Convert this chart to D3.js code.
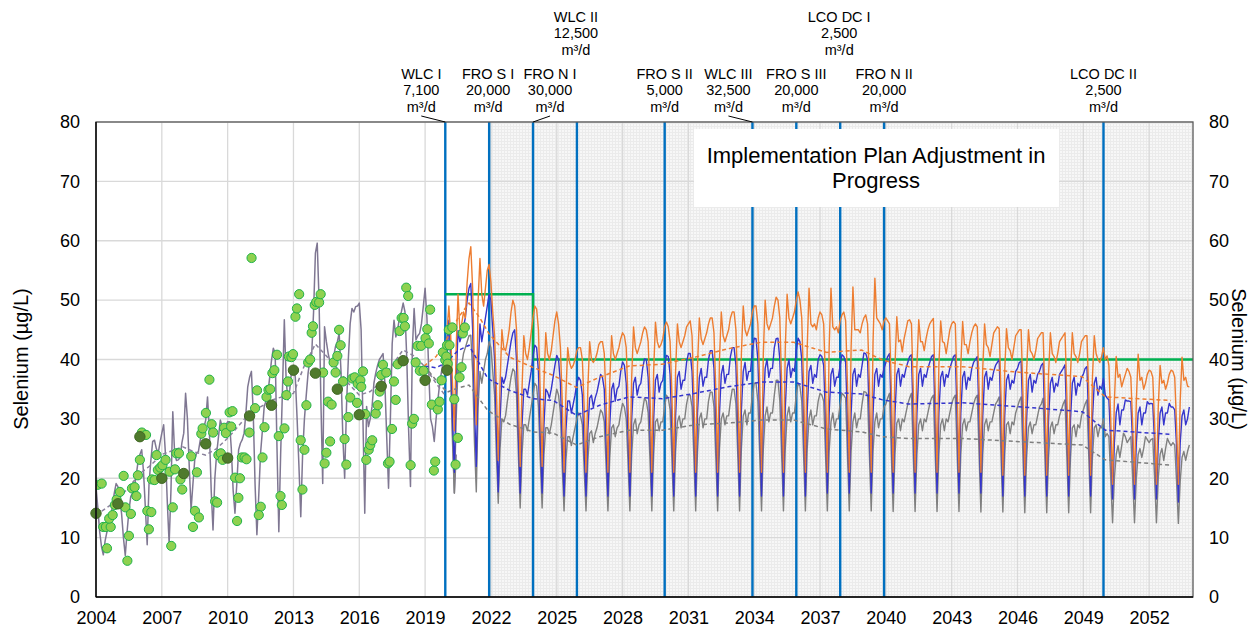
<!DOCTYPE html>
<html>
<head>
<meta charset="utf-8">
<script src="https://cdn.jsdelivr.net/npm/d3@7"></script>
<style>
  body { margin: 0; background: #fff; }
  svg { display: block; font-family: Arial, "Liberation Sans", sans-serif; }
</style>
</head>
<body>
<svg id="chart" width="1257" height="631"></svg>
<script>
// ---- data ----
var yTicks = [0, 10, 20, 30, 40, 50, 60, 70, 80];
var xTickYears = [2004, 2007, 2010, 2013, 2016, 2019, 2022, 2025, 2028, 2031, 2034, 2037, 2040, 2043, 2046, 2049, 2052];

// monthly modelled selenium, Jan 2004 onwards (one row per year)
var historicalStart = 2004;
var historical = [
    [18.6, 15, 11, 8.5, 7.1, 9.5, 11, 12, 13, 15.5, 17.5, 19.1],
    [18.6, 16.6, 14, 10, 7, 11, 14.5, 16.9, 17.5, 18.6, 20.5, 22.8],
    [24, 24.8, 21, 15, 8.8, 19.1, 23, 26.2, 26.4, 25, 24.2, 26],
    [27.6, 29, 24, 16, 9, 18, 31.2, 24.2, 23, 23.1, 23.5, 26],
    [27.6, 34.3, 30, 22, 14.7, 19, 23.1, 24.2, 24.5, 26.4, 27.5, 28.5],
    [29.8, 33.7, 28, 18, 11.3, 20, 24.2, 27, 29.8, 28.7, 28.5, 29],
    [29.5, 29.5, 25, 18, 14.1, 19, 24.8, 25.9, 26.5, 27.6, 31, 35.4],
    [37, 38, 31, 19, 10.5, 17, 24.2, 28, 32.1, 33, 34.3, 37],
    [39.9, 41.9, 41, 25, 11, 24.2, 35, 46.7, 36.5, 33.2, 35, 38.2],
    [39, 37, 30, 22, 13.5, 24, 30, 34, 37.7, 40, 41, 48],
    [57.9, 59.6, 50, 33, 19.1, 45.5, 43, 41, 39.5, 38.8, 40.5, 42.2],
    [43, 44.4, 38, 27, 20, 32.1, 40, 46, 48.6, 48, 48.9, 49],
    [49.5, 45, 30, 14.1, 32.1, 28.7, 30, 32.1, 36, 37.7, 39, 40],
    [40.5, 41, 36, 27, 18.3, 30, 42.7, 46.6, 43.8, 45, 47.2, 48],
    [49.5, 48, 40, 28, 18.6, 41.6, 48.6, 43.3, 44, 44.4, 46, 48.9],
    [52, 47, 38, 30, 28.7, 26.2, 30, 33.2, 36, 38, 40, 42],
    [44, 45, 40, 28, 17.5, 24]
];

// monthly projections, Jan 2020 onwards
var projectionStart = 2020;
var orangeMonthly = [
    [45, 49, 44, 36, 28, 42, 51, 45, 46, 48, 47, 53],
    [57, 59, 52, 38, 29, 50, 57, 51, 49, 52, 55, 56],
    [53, 48, 44, 35, 23, 36, 45, 42, 41.5, 43, 45, 48],
    [50, 49, 45, 34, 22, 35, 44, 41, 40, 42, 44.5, 47],
    [49, 48.5, 45, 34, 22, 36, 44.5, 41, 40, 41.5, 44, 46.5],
    [48, 46, 42, 33, 21, 34, 42, 39.5, 38.5, 39, 40, 41.5],
    [42, 42, 40, 32, 21, 35, 43, 40, 39.5, 40, 41, 42.5],
    [43, 43, 41, 33, 21, 36, 44, 41, 40, 41, 42, 43.5],
    [44.5, 44, 42, 33, 21, 37, 45.5, 42, 41, 42, 43, 44.5],
    [45.5, 45, 43, 34, 21, 38, 46.3, 43, 42, 42.5, 43.5, 45.5],
    [46.3, 45.5, 43, 34, 21, 38, 46, 43, 42, 43, 44, 45.5],
    [46, 46.5, 44, 34, 21, 39, 47, 43.5, 42.5, 43.5, 44.5, 46],
    [47, 47, 44.5, 35, 21, 40, 48, 44, 43, 44, 45, 47],
    [48, 48, 45, 35, 21, 41, 49, 45, 44, 45, 46, 48],
    [49, 49, 46, 36, 21, 41, 50, 46, 45, 46, 47, 49],
    [50.5, 50, 47, 36, 21, 42, 51, 47, 46, 47, 48, 50],
    [51.4, 50, 47, 36, 21, 42, 52, 46, 45.5, 46, 45, 47],
    [48, 47.5, 46, 36, 21, 42, 52, 45.5, 45, 45.5, 44.5, 46.5],
    [47.5, 48, 46.5, 36, 21, 42, 52.2, 45, 45, 45, 44.5, 46],
    [47, 47.5, 46, 36, 21, 43, 53.7, 47, 46.5, 46, 45, 46.5],
    [47, 46.5, 46, 35, 21, 39, 47.2, 43, 43.3, 41.3, 43.5, 45],
    [46.5, 46.7, 46, 35, 21, 39, 46.7, 43, 43, 41.5, 43.5, 45],
    [46, 46.5, 46.9, 35, 21, 39, 46.5, 43, 42.8, 41, 43, 45],
    [46, 46.4, 46, 35, 21, 39, 46.4, 42.5, 42.5, 41, 43, 44.5],
    [45.5, 46, 45.5, 35, 21, 38.5, 46, 42.5, 42, 40.5, 42.5, 44.5],
    [45, 45.5, 45.2, 34, 20.5, 38, 45.2, 42, 41.5, 40, 42, 44],
    [44.5, 45, 45, 34, 20.5, 38, 45, 41.5, 41, 40, 41.5, 43.5],
    [44, 44.5, 44.5, 34, 20.5, 37.5, 44.5, 41, 40.5, 39.5, 41, 43],
    [43.5, 44, 44.5, 34, 20.5, 37.5, 44.5, 41, 40.5, 39.5, 41, 43],
    [43.5, 44, 44, 34, 20.5, 37, 44, 41, 40, 39.5, 40.5, 42],
    [40, 40.6, 39, 30, 19, 33, 40.5, 37, 37.5, 35.4, 36.5, 37.5],
    [38.5, 38, 37, 29, 19, 33, 40.9, 36.5, 37, 35, 36, 37.5],
    [38.2, 38, 37, 29, 19, 32, 39, 36, 36.5, 35, 36, 37.5],
    [38.2, 38, 37, 29, 19, 33, 40.4, 36.5, 37, 35.5, 35.4]
];
var blueMonthly = [
    [40, 46.6, 42, 30, 21, 36, 44.9, 43, 44, 45.5, 47, 50],
    [52, 52.8, 45, 32, 22, 38, 46, 43, 45, 47, 49, 51],
    [50, 45, 40, 28, 17.7, 30, 37, 36, 37, 39, 41, 43],
    [44.5, 45, 40, 28, 17.5, 29, 35, 35, 34, 36, 38, 40.5],
    [42.4, 42, 38, 27, 17.5, 29, 35, 34.5, 33.5, 35, 37, 39],
    [40.7, 40, 36, 26, 17, 28, 33, 33, 31, 32.5, 34, 36],
    [37, 36.5, 34, 25, 17, 28, 33.5, 34, 32, 33.5, 34.5, 36],
    [37.5, 37, 35, 26, 17, 29, 35, 36, 33, 35, 35.5, 38],
    [39.6, 39, 36, 27, 17, 30, 36, 37, 34, 35.5, 36, 38.5],
    [40.1, 40, 37, 28, 17, 30, 36.5, 37.5, 34.5, 36, 36.5, 39],
    [40.7, 40.5, 37.5, 28, 17, 30.5, 37, 38, 35, 36.5, 36.5, 39.5],
    [41, 41, 38, 29, 17, 31, 37, 38.5, 35.5, 37, 37, 40],
    [41.5, 41.5, 38.5, 29, 17, 31, 37.5, 39, 36, 37.5, 37.5, 40.5],
    [42, 42, 39, 29, 17, 31.5, 38, 39.5, 36.5, 38, 38, 41.5],
    [43.6, 43.5, 40, 30, 17, 32, 38.5, 40, 37, 38.5, 38.5, 42],
    [43.5, 43.6, 40, 30, 17, 32, 38.5, 40, 37, 38.5, 38, 41.5],
    [43.6, 43, 40, 30, 17, 31.5, 38, 39, 36, 37.5, 37, 40],
    [40.8, 40.5, 39, 30, 17.5, 31, 37.5, 38.5, 35.5, 37, 37, 39],
    [40.8, 40.5, 39.5, 30, 17.5, 31, 37.5, 38.5, 35.5, 37.5, 37, 39],
    [41.1, 41, 40, 30, 17.5, 31, 37.5, 38.5, 35.5, 37.5, 37, 38.5],
    [39.5, 40.5, 41, 30, 17.5, 31, 37.5, 38.5, 35.5, 37.5, 37, 38.5],
    [39.5, 40.5, 40.8, 30, 17.5, 31, 37.5, 38.5, 35.5, 37.5, 37, 38.5],
    [39.5, 40.5, 40.8, 30, 17.5, 31, 37, 38, 35.5, 37.5, 37, 38.5],
    [39.5, 40.5, 40.8, 30, 17.5, 31, 37, 38, 35, 37, 36.5, 38.5],
    [39.5, 40, 40.5, 30, 17.5, 30.5, 37, 38, 35, 37, 36.5, 38],
    [39, 39.5, 40, 29.5, 17, 30.5, 36.5, 37.5, 35, 36.5, 36, 38],
    [38.5, 39.5, 39.7, 29.5, 17, 30, 36.5, 37.5, 34.5, 36.5, 36, 37.5],
    [38, 39, 39.4, 29, 17, 30, 36, 37, 34.5, 36, 35.5, 37.5],
    [38, 38.5, 39.1, 29, 17, 30, 36, 37, 34, 36, 35.5, 37],
    [37.5, 38.5, 38.8, 29, 17, 30, 36, 37, 34, 35.5, 35, 36.8],
    [34, 33.5, 33.2, 26, 16.5, 26, 31, 32.5, 29, 31.5, 31.5, 33.2],
    [33, 33, 32.9, 26, 16.5, 26, 31, 32, 29, 31, 31, 32.9],
    [32.5, 32.6, 32.5, 26, 16.5, 26, 31, 32, 29, 31, 31, 32.6],
    [32, 32, 31.5, 25.5, 16, 26, 30.5, 31.5, 29, 30, 32]
];
var grayMonthly = [
    [38, 41, 37, 26, 17.5, 30, 38.7, 37, 39, 41, 42, 43],
    [44, 44.1, 38, 26, 17.7, 32, 38, 36, 38, 40, 41, 43],
    [42, 38, 34, 24, 15.8, 25, 30, 29.5, 30.5, 33, 35, 37],
    [38.4, 38, 34, 24, 15, 24, 29, 29, 28, 30, 32, 34],
    [36, 35.5, 32, 23, 15, 24, 28.5, 28.5, 27.5, 29, 31, 33],
    [35, 34, 31, 22, 14.5, 23, 27, 27, 25.5, 27, 28.5, 30],
    [31, 30.5, 29, 21.5, 14.5, 23, 27.5, 28, 26, 27.5, 28.5, 30],
    [31.5, 31, 29.5, 22, 14.5, 23.5, 28.5, 29, 27, 28.5, 29, 31],
    [32.6, 32, 30, 22.5, 14.5, 24, 29, 30, 27.5, 29, 29.5, 31.5],
    [33.5, 33, 31, 23, 14.5, 24, 29.5, 30, 28, 29.5, 29.5, 32],
    [34, 33.5, 31.5, 23, 14.5, 24.5, 29.5, 30.5, 28.5, 30, 30, 32.5],
    [34, 34, 32, 23.5, 14.5, 24.5, 30, 31, 28.5, 30, 30, 33],
    [34.5, 34.5, 32, 23.5, 14.5, 25, 30, 31, 29, 30.5, 30.5, 33],
    [35, 35, 32.5, 24, 14.5, 25, 30.5, 31.5, 29, 31, 31, 34],
    [36, 36, 33, 24, 14.5, 25, 30.5, 32, 29.5, 31, 31, 34],
    [36.5, 36.5, 33, 24, 14.5, 25, 30.5, 32, 29.5, 31, 31, 34],
    [36, 35.5, 33, 24, 14.5, 25, 30, 31.5, 29, 30.5, 30.5, 33],
    [34.3, 34, 33, 24, 14.5, 24.5, 29.5, 31, 28.5, 30, 30, 32.5],
    [34.3, 34, 33.5, 24, 14.5, 24.5, 29.5, 31, 28.5, 30, 30, 32.5],
    [34.6, 34.5, 34, 24, 14.5, 24.5, 29.5, 31, 28.5, 30, 30, 32],
    [32.5, 33.5, 34.3, 24, 14.4, 24, 29.3, 30, 28, 30, 29.5, 31],
    [32.5, 33.5, 34.3, 24, 14.4, 24, 29, 30, 28, 30, 29.5, 31],
    [32.5, 33.5, 34, 24, 14.4, 24, 29, 30, 28, 30, 29.5, 31],
    [32.5, 33.5, 34, 24, 14.4, 24, 29, 30, 28, 29.5, 29.5, 31],
    [32.5, 33.5, 34, 24, 14.3, 24, 29, 30, 28, 29.5, 29.5, 31],
    [32.5, 33, 33.7, 23.5, 14.3, 24, 29, 29.5, 27.5, 29.5, 29, 31],
    [32, 33, 33.7, 23.5, 14.2, 23.5, 28.5, 29.5, 27.5, 29, 29, 30.5],
    [32, 32.5, 33.5, 23.5, 14.2, 23.5, 28.5, 29.5, 27.5, 29, 29, 30.5],
    [31.5, 32.5, 33.2, 23.5, 14.2, 23.5, 28.5, 29, 27, 29, 28.5, 30.5],
    [31.5, 32.5, 33.2, 23.5, 14.2, 23.5, 28.5, 29, 27, 28.5, 28.5, 30],
    [27, 27.5, 27, 20, 12.5, 20, 24, 25.5, 23.5, 25.5, 27.6, 27],
    [26, 26.5, 27, 20, 12.5, 20, 24, 25, 23.5, 25, 27, 26.5],
    [26, 26.5, 26.7, 20, 12.5, 20, 24, 25, 23, 25, 26.7, 26],
    [25.5, 26, 25.6, 19.5, 12.4, 19.5, 23.5, 24.5, 23, 24.5, 25.6]
];

// trends [year, value]
var historicalTrend = [
    [2004.0, 13.8], [2004.9, 16.1], [2005.5, 18.5], [2006.0, 20.8], [2006.5, 22.2], [2007.0, 24.0],
    [2007.95, 25.3], [2008.5, 24.4], [2009.0, 23.9], [2009.5, 25.0], [2010.07, 27.0], [2010.98, 30.9],
    [2012.04, 33.2], [2013.0, 34.3], [2013.5, 39.0], [2014.0, 42.6], [2014.5, 40.6], [2015.0, 38.5],
    [2015.5, 36.0], [2016.0, 34.0], [2016.5, 34.6], [2016.93, 36.0], [2017.5, 39.0], [2017.99, 41.6],
    [2018.6, 40.4], [2019.0, 38.7], [2019.5, 36.0], [2019.96, 33.7]
];
var orangeTrend = [
    [2018.95, 38.9], [2019.5, 40.5], [2020.0, 43.5], [2020.5, 47.0], [2021.0, 49.5], [2021.5, 47.0],
    [2021.9, 44.4], [2022.85, 40.4], [2023.9, 38.7], [2024.85, 37.3], [2025.9, 35.3], [2026.95, 37.0],
    [2028.3, 38.9], [2029.8, 39.2], [2031.3, 40.4], [2032.8, 41.8], [2034.3, 42.9], [2035.8, 42.9],
    [2037.3, 41.2], [2038.9, 41.6], [2039.85, 39.9], [2041.05, 38.8], [2043.5, 38.8], [2045.9, 37.9],
    [2048.95, 37.1], [2050.0, 33.7], [2053.0, 33.1]
];
var blueTrend = [
    [2018.98, 38.9], [2019.5, 38.6], [2019.96, 39.5], [2020.5, 41.5], [2021.0, 42.4], [2021.86, 36.8],
    [2022.85, 34.8], [2023.93, 33.4], [2024.84, 33.1], [2025.9, 30.6], [2026.96, 32.3], [2028.3, 33.7],
    [2029.82, 33.4], [2031.3, 34.3], [2032.8, 35.4], [2034.33, 36.2], [2035.8, 36.2], [2037.3, 34.5],
    [2038.9, 34.2], [2039.85, 33.2], [2041.05, 32.5], [2043.5, 32.7], [2045.9, 32.1], [2048.96, 31.2],
    [2050.0, 28.1], [2053.0, 27.4]
];
var grayTrend = [
    [2018.98, 38.9], [2019.5, 36.5], [2020.0, 34.5], [2020.5, 35.2], [2021.0, 35.7], [2021.86, 31.4],
    [2022.85, 29.1], [2023.93, 27.8], [2024.84, 27.6], [2025.9, 25.6], [2026.96, 27.0], [2028.3, 28.1],
    [2029.82, 28.1], [2031.3, 29.0], [2032.8, 29.3], [2034.33, 29.8], [2035.8, 29.8], [2037.3, 28.3],
    [2038.9, 27.8], [2039.85, 27.0], [2041.05, 26.7], [2043.5, 26.7], [2045.9, 26.2], [2048.96, 25.6],
    [2050.0, 23.1], [2053.0, 22.2]
];

// compliance target steps
var targetSteps = [[2019.92, 51], [2023.92, 51], [2023.92, 40], [2054, 40]];

// observed samples [year, value]
var samples = [
    [2004.08, 18.9], [2004.26, 19.1], [2004.33, 11.8], [2004.45, 11.8], [2004.67, 11.8], [2004.5, 8.2],
    [2004.6, 13.2], [2004.76, 13.8], [2004.86, 15.5], [2004.94, 16.4], [2005.09, 17.7], [2005.26, 20.4],
    [2005.34, 15.1], [2005.43, 6.1], [2005.5, 10.3], [2005.59, 14.0], [2005.64, 18.3], [2005.76, 18.5],
    [2005.84, 17.0], [2005.91, 20.5], [2006.0, 23.1], [2006.09, 27.7], [2006.28, 27.3], [2006.34, 14.5],
    [2006.52, 14.3], [2006.41, 11.4], [2006.55, 19.8], [2006.67, 19.7], [2006.76, 23.9], [2006.82, 21.4],
    [2006.93, 21.8], [2007.03, 22.2], [2007.17, 23.1], [2007.35, 21.1], [2007.43, 8.6], [2007.5, 15.1],
    [2007.6, 21.5], [2007.66, 24.2], [2007.78, 24.2], [2007.85, 19.8], [2007.93, 18.1], [2008.34, 23.7],
    [2008.42, 11.8], [2008.51, 14.5], [2008.6, 21.0], [2008.69, 13.4], [2008.8, 27.5], [2008.86, 28.4],
    [2009.01, 31.0], [2009.17, 36.6], [2009.27, 29.1], [2009.34, 27.7], [2009.43, 16.1], [2009.52, 15.9],
    [2009.58, 23.9], [2009.69, 24.2], [2009.77, 23.1], [2009.84, 28.5], [2009.92, 27.6], [2010.09, 31.1],
    [2010.22, 31.3], [2010.16, 28.7], [2010.34, 20.1], [2010.43, 12.8], [2010.49, 16.7], [2010.56, 20.0],
    [2010.65, 23.5], [2010.77, 23.5], [2010.86, 23.2], [2010.99, 27.7], [2011.09, 57.1], [2011.25, 31.8],
    [2011.34, 34.8], [2011.51, 15.2], [2011.42, 13.8], [2011.59, 23.5], [2011.68, 28.6], [2011.77, 33.7],
    [2011.86, 34.9], [2011.94, 35.0], [2012.04, 37.7], [2012.13, 38.2], [2012.25, 40.8], [2012.33, 27.1],
    [2012.47, 15.5], [2012.41, 17.0], [2012.59, 28.4], [2012.68, 34.0], [2012.75, 36.3], [2012.79, 40.5],
    [2012.91, 40.4], [2012.98, 40.9], [2013.09, 47.2], [2013.16, 48.6], [2013.26, 51.0], [2013.33, 26.4],
    [2013.41, 18.1], [2013.5, 24.8], [2013.59, 32.3], [2013.67, 39.5], [2013.76, 40.0], [2013.83, 44.5],
    [2013.89, 45.6], [2013.97, 49.2], [2014.04, 49.7], [2014.17, 49.6], [2014.24, 51.0], [2014.35, 37.8],
    [2014.42, 22.5], [2014.5, 24.3], [2014.58, 32.9], [2014.74, 32.4], [2014.67, 26.2], [2014.83, 39.5],
    [2014.92, 37.8], [2015.0, 40.6], [2015.08, 45.0], [2015.15, 42.4], [2015.26, 36.3], [2015.33, 26.6],
    [2015.41, 22.3], [2015.5, 30.3], [2015.59, 33.6], [2015.68, 36.8], [2015.79, 37.0], [2015.9, 32.7],
    [2015.93, 35.9], [2016.05, 36.5], [2016.17, 38.0], [2016.09, 35.4], [2016.27, 30.8], [2016.32, 23.1],
    [2016.43, 24.8], [2016.5, 25.6], [2016.59, 26.4], [2016.75, 30.9], [2016.84, 32.3], [2016.93, 34.6],
    [2017.0, 37.4], [2017.08, 39.1], [2017.23, 37.8], [2017.31, 22.5], [2017.38, 22.8], [2017.49, 28.3],
    [2017.58, 36.3], [2017.66, 33.2], [2017.75, 39.2], [2017.84, 44.8], [2017.93, 47.0], [2018.02, 47.0],
    [2018.08, 45.6], [2018.14, 52.1], [2018.23, 50.7], [2018.34, 22.2], [2018.41, 29.2], [2018.49, 30.0],
    [2018.57, 39.5], [2018.66, 42.3], [2018.82, 42.3], [2018.76, 38.1], [2018.93, 38.1], [2019.02, 43.6],
    [2019.1, 45.1], [2019.17, 42.7], [2019.23, 48.4], [2019.31, 32.4], [2019.4, 21.3], [2019.46, 22.8],
    [2019.58, 31.6], [2019.66, 32.9], [2019.75, 36.5], [2019.81, 41.2], [2019.92, 39.9], [2019.97, 40.5],
    [2020.0, 42.4], [2020.03, 39.3], [2020.08, 45.0], [2020.11, 42.4], [2020.24, 45.4], [2020.33, 33.3],
    [2020.39, 22.3], [2020.49, 26.8], [2020.57, 37.0], [2020.66, 38.7], [2020.72, 44.4], [2020.81, 45.4]
];
// annual averages [year, value]
var annualAverages = [
    [2004, 14.1], [2005, 15.7], [2006, 27.0], [2007, 20.0], [2008, 20.8], [2009, 25.8], [2010, 23.4],
    [2011, 30.5], [2012, 32.3], [2013, 38.2], [2014, 37.7], [2015, 35.0], [2016, 30.7], [2017, 35.5],
    [2018, 39.8], [2019, 36.5], [2020, 38.2]
];

// implementation milestones
var events = [
    {year: 2019.92, name: "WLC I", flow: "7,100"},
    {year: 2021.92, name: "FRO S I", flow: "20,000"},
    {year: 2023.92, name: "FRO N I", flow: "30,000"},
    {year: 2025.92, name: "WLC II", flow: "12,500"},
    {year: 2029.92, name: "FRO S II", flow: "5,000"},
    {year: 2033.92, name: "WLC III", flow: "32,500"},
    {year: 2035.92, name: "FRO S III", flow: "20,000"},
    {year: 2037.92, name: "LCO DC I", flow: "2,500"},
    {year: 2039.92, name: "FRO N II", flow: "20,000"},
    {year: 2049.92, name: "LCO DC II", flow: "2,500"}
];
var shadeFrom = 2021.92;

// label placement (pixels), kept apart from the data
var labelLayout = {
    "WLC I": {dx: -24, row: 0}, "FRO S I": {dx: -1, row: 0}, "FRO N I": {dx: 17, row: 0},
    "WLC II": {dx: -1, row: 1}, "FRO S II": {dx: 0, row: 0}, "WLC III": {dx: -24, row: 0},
    "FRO S III": {dx: 0, row: 0}, "LCO DC I": {dx: -1, row: 1}, "FRO N II": {dx: 0, row: 0},
    "LCO DC II": {dx: 0, row: 0}
};

// ---- chart ----
var svg = d3.select("#chart");
var plot = {left: 96, right: 1193, top: 122, bottom: 597};

var x = d3.scaleLinear().domain([2004, 2054]).range([plot.left, plot.right]);
var y = d3.scaleLinear().domain([0, 80]).range([plot.bottom, plot.top]);

function monthly(rows, start) {
    var pts = [];
    rows.forEach(function(row, i) {
        row.forEach(function(v, m) {
            pts.push([start + i + m / 12, v]);
        });
    });
    return pts;
}

var defs = svg.append("defs");
var pat = defs.append("pattern")
    .attr("id", "shade")
    .attr("width", 3).attr("height", 3)
    .attr("patternUnits", "userSpaceOnUse");
pat.append("rect").attr("width", 3).attr("height", 3).attr("fill", "#f7f7f7");
pat.append("path").attr("d", "M0,0.5H3M0.5,0V3").attr("stroke", "#ebebeb").attr("stroke-width", 1);

defs.append("clipPath").attr("id", "plotClip")
    .append("rect")
    .attr("x", plot.left).attr("y", plot.top)
    .attr("width", plot.right - plot.left).attr("height", plot.bottom - plot.top);

// shaded future period
svg.append("rect")
    .attr("x", x(shadeFrom))
    .attr("y", plot.top)
    .attr("width", plot.right - x(shadeFrom))
    .attr("height", plot.bottom - plot.top)
    .attr("fill", "url(#shade)");

// grid
svg.append("g")
    .selectAll("line")
    .data(yTicks.slice(1))
    .enter()
    .append("line")
    .attr("x1", plot.left).attr("x2", plot.right)
    .attr("y1", function(d) { return y(d); })
    .attr("y2", function(d) { return y(d); })
    .attr("stroke", "#d9d9d9")
    .attr("stroke-width", 1.3);

svg.append("g")
    .selectAll("line")
    .data(xTickYears.slice(1))
    .enter()
    .append("line")
    .attr("x1", function(d) { return x(d); })
    .attr("x2", function(d) { return x(d); })
    .attr("y1", plot.top).attr("y2", plot.bottom)
    .attr("stroke", "#d9d9d9")
    .attr("stroke-width", 1.3);

// milestone lines
svg.append("g")
    .selectAll("line")
    .data(events)
    .enter()
    .append("line")
    .attr("x1", function(d) { return x(d.year); })
    .attr("x2", function(d) { return x(d.year); })
    .attr("y1", plot.top).attr("y2", plot.bottom)
    .attr("stroke", "#0070C0")
    .attr("stroke-width", 2.4);

var line = d3.line()
    .x(function(d) { return x(d[0]); })
    .y(function(d) { return y(d[1]); });

var series = svg.append("g").attr("clip-path", "url(#plotClip)");

// target
series.append("path")
    .datum(targetSteps)
    .attr("d", line)
    .attr("fill", "none")
    .attr("stroke", "#00B050")
    .attr("stroke-width", 2.4);

function solid(data, color, w) {
    series.append("path")
        .datum(data)
        .attr("d", line)
        .attr("fill", "none")
        .attr("stroke", color)
        .attr("stroke-width", w)
        .attr("stroke-linejoin", "round");
}
function dashed(data, color) {
    series.append("path")
        .datum(data)
        .attr("d", line)
        .attr("fill", "none")
        .attr("stroke", color)
        .attr("stroke-width", 1.5)
        .attr("stroke-dasharray", "4,3");
}

solid(monthly(historical, historicalStart), "#7f7792", 1.5);
solid(monthly(grayMonthly, projectionStart), "#808080", 1.4);
solid(monthly(blueMonthly, projectionStart), "#3535CC", 1.4);
solid(monthly(orangeMonthly, projectionStart), "#ED7D31", 1.4);

dashed(historicalTrend, "#8a829c");
dashed(grayTrend, "#7f7f7f");
dashed(blueTrend, "#3535CC");
dashed(orangeTrend, "#ED7D31");

// samples
series.append("g")
    .selectAll("circle")
    .data(samples)
    .enter()
    .append("circle")
    .attr("cx", function(d) { return x(d[0]); })
    .attr("cy", function(d) { return y(d[1]); })
    .attr("r", 4.6)
    .attr("fill", "#8FD14F")
    .attr("stroke", "#1FB24A")
    .attr("stroke-width", 1);

svg.append("g")
    .selectAll("circle")
    .data(annualAverages)
    .enter()
    .append("circle")
    .attr("cx", function(d) { return x(d[0]); })
    .attr("cy", function(d) { return y(d[1]); })
    .attr("r", 5.2)
    .attr("fill", "#4F7A2C")
    .attr("stroke", "#3E6622")
    .attr("stroke-width", 1);

// plot frame
svg.append("rect")
    .attr("x", plot.left).attr("y", plot.top)
    .attr("width", plot.right - plot.left).attr("height", plot.bottom - plot.top)
    .attr("fill", "none")
    .attr("stroke", "#595959")
    .attr("stroke-width", 1.3);
svg.append("line")
    .attr("x1", plot.left).attr("x2", plot.left)
    .attr("y1", plot.top).attr("y2", plot.bottom)
    .attr("stroke", "#000").attr("stroke-width", 1.4);
svg.append("line")
    .attr("x1", plot.left).attr("x2", plot.right)
    .attr("y1", plot.bottom).attr("y2", plot.bottom)
    .attr("stroke", "#000").attr("stroke-width", 1.4);

// axes
var leftAxis = svg.append("g")
    .attr("transform", "translate(" + plot.left + ",0)")
    .call(d3.axisLeft(y).tickValues(yTicks).tickSize(0).tickPadding(16));
var rightAxis = svg.append("g")
    .attr("transform", "translate(" + plot.right + ",0)")
    .call(d3.axisRight(y).tickValues(yTicks).tickSize(0).tickPadding(16));
var bottomAxis = svg.append("g")
    .attr("transform", "translate(0," + plot.bottom + ")")
    .call(d3.axisBottom(x).tickValues(xTickYears).tickFormat(d3.format("d")).tickSize(0).tickPadding(14));

[leftAxis, rightAxis, bottomAxis].forEach(function(a) {
    a.select(".domain").remove();
    a.selectAll("text")
        .style("font-family", "Arial, 'Liberation Sans', sans-serif")
        .style("font-size", "18px")
        .attr("fill", "#000");
});

svg.append("text")
    .attr("transform", "translate(28,359) rotate(-90)")
    .attr("text-anchor", "middle")
    .style("font-size", "20px")
    .text("Selenium (µg/L)");
svg.append("text")
    .attr("transform", "translate(1232,359) rotate(90)")
    .attr("text-anchor", "middle")
    .style("font-size", "20px")
    .text("Selenium (µg/L)");

// milestone labels
var rowBase = [78.5, 21.5];
var lab = svg.append("g")
    .selectAll("g")
    .data(events)
    .enter()
    .append("g")
    .attr("transform", function(d) {
        var l = labelLayout[d.name];
        return "translate(" + (x(d.year) + l.dx) + "," + rowBase[l.row] + ")";
    });
lab.append("text")
    .attr("text-anchor", "middle")
    .style("font-size", "14.5px")
    .selectAll("tspan")
    .data(function(d) { return [d.name, d.flow, "m³/d"]; })
    .enter()
    .append("tspan")
    .attr("x", 0)
    .attr("y", function(d, i) { return i * 16.5; })
    .text(function(d) { return d; });

svg.append("g")
    .selectAll("line")
    .data(events.filter(function(d) { return Math.abs(labelLayout[d.name].dx) > 5; }))
    .enter()
    .append("line")
    .attr("x1", function(d) { return x(d.year); })
    .attr("y1", plot.top)
    .attr("x2", function(d) { return x(d.year) + labelLayout[d.name].dx; })
    .attr("y2", 116)
    .attr("stroke", "#000")
    .attr("stroke-width", 1);

// note box
svg.append("rect")
    .attr("x", 694).attr("y", 129)
    .attr("width", 365).attr("height", 78)
    .attr("fill", "#fff");
svg.append("text")
    .attr("text-anchor", "middle")
    .style("font-size", "22px")
    .selectAll("tspan")
    .data(["Implementation Plan Adjustment in", "Progress"])
    .enter()
    .append("tspan")
    .attr("x", 876)
    .attr("y", function(d, i) { return 163 + i * 25; })
    .text(function(d) { return d; });
</script>
</body>
</html>
